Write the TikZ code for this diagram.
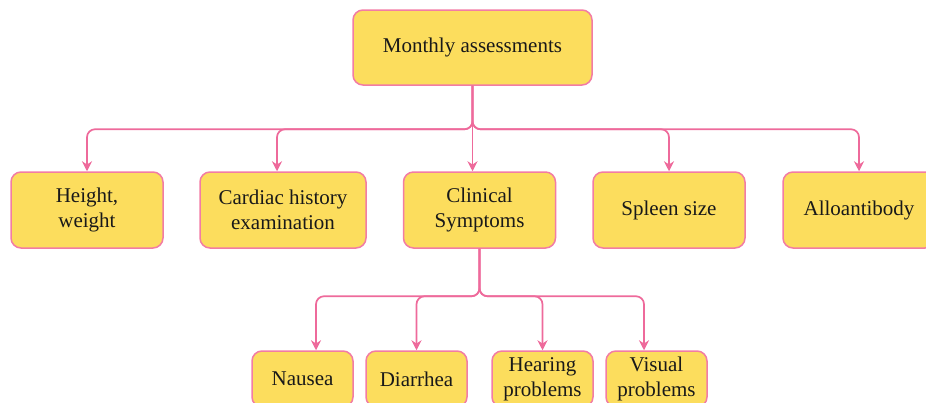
\documentclass[tikz,border=0pt]{standalone}
\usepackage{fontspec}
\setmainfont{Liberation Serif}
\usetikzlibrary{arrows.meta}
\definecolor{boxfill}{HTML}{FCDD5D}
\definecolor{boxline}{HTML}{F27CA4}
\definecolor{linkpink}{HTML}{EE6A9B}
\tikzset{
  box/.style={draw=boxline, fill=boxfill, line width=0.75pt,
              rounded corners=5pt, align=center, inner sep=0pt,
              font=\fontsize{10.5}{12.6}\selectfont, text=black!90,
              minimum width=76pt, minimum height=38pt},
  smallbox/.style={box, minimum width=50.5pt, minimum height=28pt},
  link/.style={draw=linkpink, line width=0.85pt, rounded corners=4pt,
               -{Stealth[length=5pt,width=5pt]}}
}
\begin{document}
\begin{tikzpicture}[x=0.5pt,y=-0.5pt]
\useasboundingbox (0,0) rectangle (926,402);
% root
\node[box, minimum width=119.5pt, minimum height=37.5pt] (monthly)
  at (472.5,47.5) {Monthly assessments};
% first level
\node[box] (height)   at (87,210)    {Height,\\weight};
\node[box, minimum width=83pt] (cardiac) at (283,210)
  {Cardiac history\\examination};
\node[box] (clinical) at (479.5,210) {Clinical\\Symptoms};
\node[box] (spleen)   at (669,210)   {Spleen size};
\node[box] (allo)     at (859,210)   {Alloantibody};
% second level
\node[smallbox] (nausea)   at (302.5,379) {Nausea};
\node[smallbox] (diarrhea) at (416.5,379) {Diarrhea};
\node[smallbox] (hearing)  at (542.5,379) {Hearing\\problems};
\node[smallbox] (visual)   at (656.5,379) {Visual\\problems};
% links from root
\foreach \n/\dx in {height/0pt, cardiac/-3pt, spleen/0pt, allo/0pt}
  \draw[link] (monthly.south) |- ([xshift=\dx,yshift=21pt]\n.north)
    -- ([xshift=\dx]\n.north);
\draw[link] (monthly.south) -- (monthly.south |- clinical.north);
% links from clinical symptoms
\foreach \n/\dx in {nausea/6.75pt, diarrhea/0pt, hearing/0pt, visual/-6.25pt}
  \draw[link] (clinical.south) |- ([xshift=\dx,yshift=27pt]\n.north)
    -- ([xshift=\dx]\n.north);
\end{tikzpicture}
\end{document}
